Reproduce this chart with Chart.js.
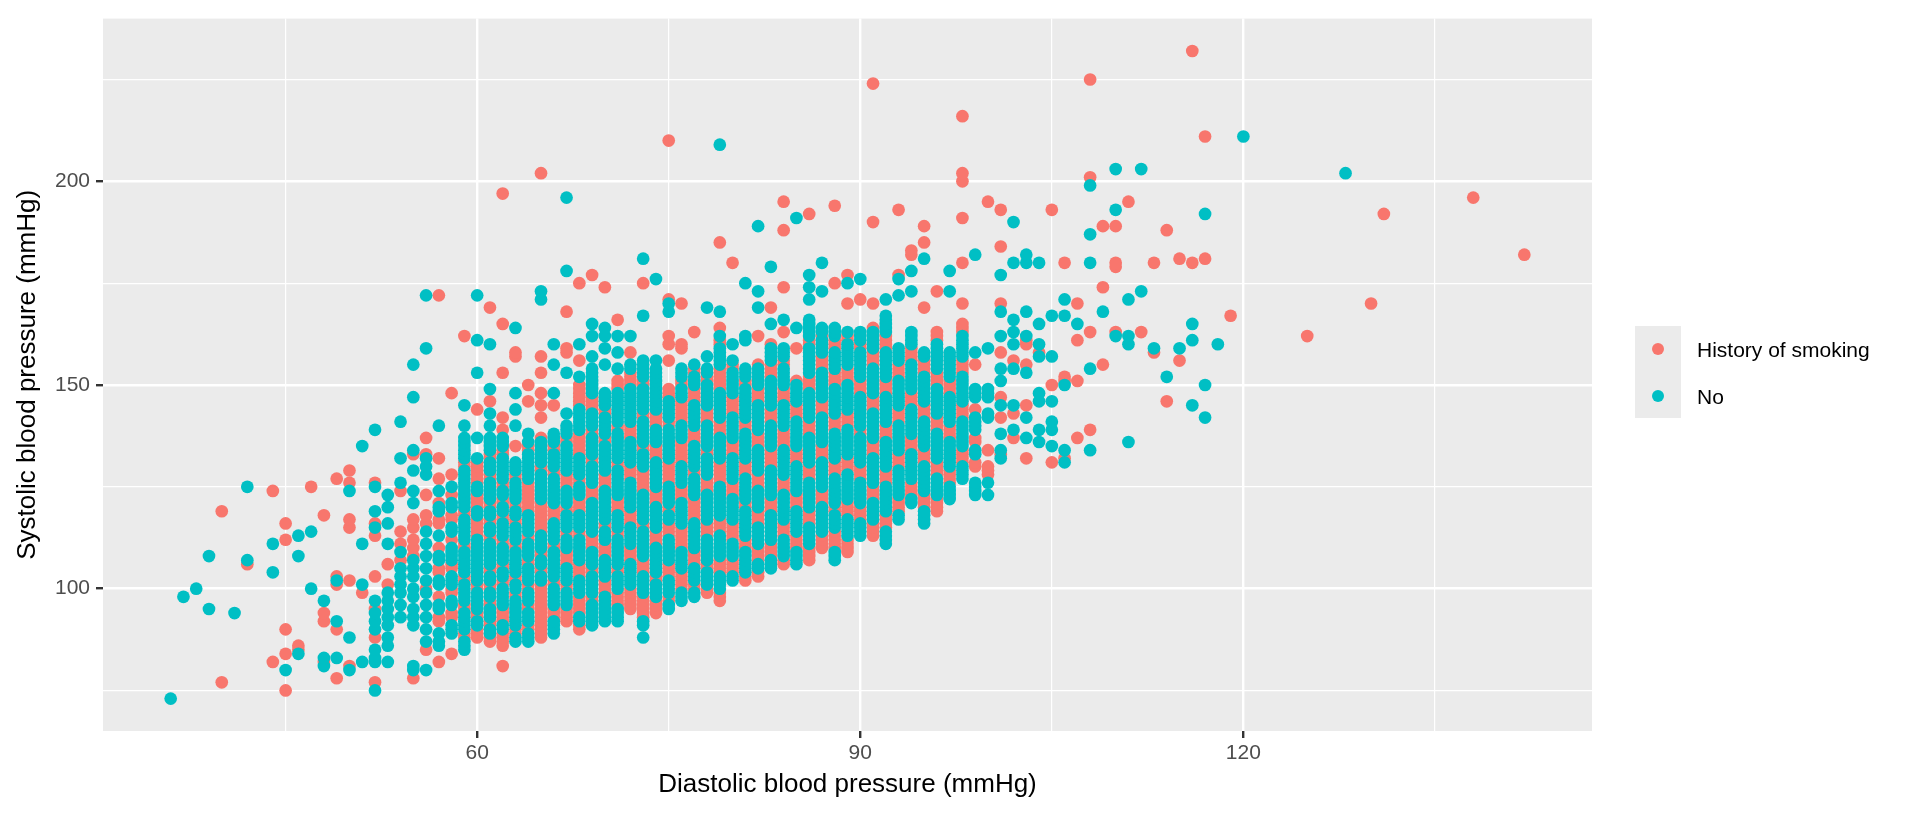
<!DOCTYPE html>
<html>
<head>
<meta charset="utf-8">
<title>Systolic vs diastolic blood pressure</title>
<script src="https://cdn.jsdelivr.net/npm/chart.js@4.4.1/dist/chart.umd.min.js"></script>
<style>
  html, body { margin: 0; padding: 0; background: #ffffff; }
  #wrap { position: relative; width: 1920px; height: 816px; overflow: hidden; }
  #chart { position: absolute; left: 0; top: 0; }
  .key-bg { position: absolute; left: 1635px; top: 326px; width: 46px; height: 92px; background: #EBEBEB; }
  .key-dot { position: absolute; width: 12.5px; height: 12.5px; border-radius: 50%; left: 1651.5px; }
  .key-label { position: absolute; left: 1697px; font-family: "Liberation Sans", Arial, sans-serif; font-size: 21px; color: #000000; line-height: 1; transform: translateY(-50%); white-space: nowrap; }
</style>
</head>
<body>
<div id="wrap">
  <canvas id="chart" width="1920" height="816"></canvas>
  <div class="key-bg"></div>
  <div class="key-dot" style="top:342.75px;background:#F8766D"></div>
  <div class="key-dot" style="top:389.5px;background:#00BFC4"></div>
  <div class="key-label" style="top:349px">History of smoking</div>
  <div class="key-label" style="top:396px">No</div>
</div>
<script>
// diastolic value, then the systolic readings seen in that column
const smokingRows = [
  [40, [77, 119]],
  [42, [106]],
  [44, [82, 124]],
  [45, [75, 84, 90, 112, 116]],
  [46, [85, 86]],
  [47, [125]],
  [48, [82, 92, 94, 118]],
  [49, [78, 90, 101, 103, 127]],
  [50, [81, 102, 115, 117, 126, 129]],
  [51, [99]],
  [52, [77, 88, 95, 103, 113, 116, 126]],
  [53, [101, 106]],
  [54, [107, 111, 114, 124]],
  [55, [78, 108, 110, 112, 115, 117, 133]],
  [56, [85, 100, 116, 118, 123, 133, 137]],
  [57, [82, 92, 93, 98, 104, 105, 110, 116, 117, 121, 127, 132, 172]],
  [58, [84, 93, 94, 99, 100, 105, 106, 112, 117, 118, 123, 128, 148]],
  [59, [88, 89, 95, 96, 102, 103, 110, 111, 118, 119, 130, 131, 162]],
  [60, [88, 89, 90, 93, 94, 100, 101, 113, 114, 115, 116, 117, 120, 121, 122, 123, 126, 127, 128, 129, 130, 131, 144]],
  [61, [87, 88, 91, 92, 96, 97, 100, 101, 104, 105, 112, 113, 116, 117, 120, 121, 127, 128, 132, 133, 146, 169]],
  [62, [81, 86, 87, 88, 89, 92, 93, 94, 95, 101, 102, 105, 106, 111, 112, 117, 118, 121, 122, 125, 126, 133, 134, 139, 142, 153, 165, 197]],
  [63, [89, 90, 98, 99, 102, 103, 110, 111, 116, 117, 120, 121, 127, 128, 135, 157, 158]],
  [64, [90, 91, 95, 96, 100, 101, 106, 107, 112, 113, 119, 120, 121, 122, 123, 124, 125, 126, 134, 135, 146, 150]],
  [65, [88, 89, 90, 91, 92, 93, 94, 95, 96, 97, 98, 99, 100, 101, 104, 105, 108, 109, 114, 115, 116, 117, 118, 119, 120, 121, 129, 130, 137, 142, 145, 148, 153, 157, 202]],
  [66, [93, 94, 95, 101, 102, 110, 111, 117, 118, 119, 120, 128, 129, 134, 135, 145]],
  [67, [92, 93, 94, 95, 100, 101, 106, 107, 108, 109, 113, 114, 119, 120, 125, 126, 127, 128, 136, 137, 158, 159, 168]],
  [68, [90, 91, 94, 95, 96, 97, 98, 103, 104, 105, 106, 113, 114, 119, 120, 121, 122, 126, 127, 133, 134, 135, 136, 137, 138, 145, 146, 147, 148, 149, 150, 156, 175]],
  [69, [97, 98, 104, 105, 110, 111, 112, 113, 122, 123, 124, 125, 131, 132, 138, 139, 144, 145, 146, 147, 177]],
  [70, [99, 100, 101, 102, 108, 109, 110, 111, 115, 116, 125, 126, 127, 128, 136, 137, 143, 144, 174]],
  [71, [96, 97, 98, 99, 104, 105, 113, 114, 119, 120, 121, 122, 130, 131, 139, 140, 149, 150, 151, 166]],
  [72, [95, 96, 97, 98, 99, 100, 107, 108, 109, 110, 116, 117, 118, 119, 127, 128, 129, 130, 137, 138, 139, 140, 150, 151, 152, 153, 158]],
  [73, [93, 94, 95, 96, 97, 98, 104, 105, 106, 107, 115, 116, 124, 125, 126, 127, 128, 129, 134, 135, 142, 143, 150, 151, 175]],
  [74, [94, 95, 96, 97, 102, 103, 111, 112, 113, 114, 121, 122, 123, 124, 132, 133, 134, 135, 140, 141, 142, 143]],
  [75, [97, 98, 103, 104, 105, 106, 113, 114, 115, 116, 119, 120, 126, 127, 128, 129, 130, 131, 140, 141, 147, 148, 149, 156, 160, 162, 171, 210]],
  [76, [100, 101, 102, 103, 104, 110, 111, 112, 113, 114, 115, 122, 123, 124, 125, 131, 132, 133, 134, 135, 136, 141, 142, 143, 144, 145, 146, 150, 151, 159, 160, 170]],
  [77, [100, 101, 106, 107, 108, 109, 117, 118, 119, 120, 121, 122, 128, 129, 136, 137, 138, 139, 146, 147, 148, 149, 153, 154, 163]],
  [78, [99, 100, 105, 106, 113, 114, 115, 116, 124, 125, 126, 127, 133, 134, 141, 142, 143, 144, 151, 152]],
  [79, [97, 98, 99, 104, 105, 106, 107, 114, 115, 116, 117, 126, 127, 128, 129, 130, 131, 138, 139, 140, 141, 149, 150, 151, 152, 153, 154, 160, 161, 164, 185]],
  [80, [104, 105, 106, 107, 112, 113, 114, 115, 116, 123, 124, 125, 126, 133, 134, 135, 136, 143, 144, 145, 146, 147, 154, 155, 180]],
  [81, [102, 103, 110, 111, 112, 120, 121, 128, 129, 130, 131, 139, 140, 141, 150, 151]],
  [82, [103, 104, 107, 108, 109, 110, 116, 117, 118, 119, 125, 126, 127, 128, 135, 136, 137, 138, 146, 147, 148, 149, 155, 162]],
  [83, [108, 109, 110, 111, 119, 120, 121, 122, 130, 131, 132, 133, 134, 141, 142, 143, 144, 152, 153, 154, 155, 160, 169]],
  [84, [106, 107, 113, 114, 115, 116, 124, 125, 126, 127, 135, 136, 137, 138, 139, 146, 147, 148, 149, 155, 156, 163, 174, 188, 195]],
  [85, [110, 111, 112, 113, 120, 121, 122, 123, 131, 132, 133, 134, 142, 143, 144, 145, 151, 159]],
  [86, [107, 108, 109, 110, 116, 117, 118, 119, 127, 128, 129, 130, 138, 139, 140, 141, 149, 150, 151, 152, 160, 161, 192]],
  [87, [110, 111, 112, 113, 121, 122, 123, 124, 132, 133, 134, 135, 143, 144, 145, 146, 154, 155, 156, 157, 162]],
  [88, [110, 111, 112, 113, 114, 119, 120, 128, 129, 130, 131, 139, 140, 141, 142, 150, 151, 152, 153, 159, 160, 161, 175, 194]],
  [89, [109, 110, 111, 112, 118, 119, 120, 121, 129, 130, 131, 132, 140, 141, 142, 143, 151, 152, 153, 154, 161, 162, 170, 177]],
  [90, [117, 118, 119, 120, 127, 128, 129, 130, 138, 139, 148, 149, 150, 151, 159, 160, 171]],
  [91, [113, 114, 115, 116, 122, 123, 124, 125, 133, 134, 135, 136, 144, 145, 146, 147, 155, 156, 157, 158, 164, 170, 190, 224]],
  [92, [115, 116, 117, 118, 126, 127, 128, 129, 137, 138, 139, 140, 148, 149, 150, 151, 159, 160, 161, 162]],
  [93, [119, 120, 121, 122, 130, 131, 132, 133, 141, 142, 143, 144, 152, 153, 154, 155, 177, 193]],
  [94, [123, 124, 125, 126, 134, 135, 136, 137, 145, 146, 147, 148, 156, 157, 158, 159, 182, 183]],
  [95, [120, 121, 122, 123, 131, 132, 133, 134, 142, 143, 144, 145, 153, 154, 155, 156, 169, 185, 189]],
  [96, [119, 120, 121, 122, 128, 129, 130, 131, 139, 140, 141, 142, 150, 151, 152, 153, 161, 162, 163, 173]],
  [97, [126, 127, 128, 129, 137, 138, 139, 140, 148, 149, 150, 151]],
  [98, [131, 132, 133, 134, 142, 143, 144, 145, 153, 154, 155, 156, 163, 164, 165, 170, 180, 191, 200, 202, 216]],
  [99, [130, 131, 136, 137, 144, 155]],
  [100, [128, 129, 130, 134, 195]],
  [101, [133, 142, 147, 158, 170, 184, 193]],
  [102, [137, 143, 156]],
  [103, [132, 145, 155, 160, 161]],
  [104, [158]],
  [105, [131, 150, 193]],
  [106, [132, 151, 152, 180]],
  [107, [137, 151, 161, 170]],
  [108, [139, 163, 201, 225]],
  [109, [155, 174, 189]],
  [110, [163, 179, 180, 189]],
  [111, [195]],
  [112, [163]],
  [113, [158, 180]],
  [114, [146, 188]],
  [115, [156, 181]],
  [116, [180, 232]],
  [117, [181, 211]],
  [119, [167]],
  [125, [162]],
  [130, [170]],
  [131, [192]],
  [138, [196]],
  [142, [182]]
];

const noSmokingRows = [
  [36, [73]],
  [37, [98]],
  [38, [100]],
  [39, [95, 108]],
  [41, [94]],
  [42, [107, 125]],
  [44, [104, 111]],
  [45, [80]],
  [46, [84, 108, 113]],
  [47, [100, 114]],
  [48, [81, 83, 97]],
  [49, [83, 92, 102]],
  [50, [80, 88, 124]],
  [51, [82, 101, 111, 135]],
  [52, [75, 82, 83, 85, 90, 92, 94, 97, 115, 119, 125, 139]],
  [53, [82, 86, 88, 91, 93, 95, 97, 99, 111, 116, 120, 123]],
  [54, [93, 96, 99, 101, 103, 105, 109, 126, 132, 141]],
  [55, [80, 81, 91, 93, 95, 98, 100, 103, 105, 107, 121, 124, 129, 134, 147, 155]],
  [56, [80, 87, 90, 93, 96, 99, 102, 105, 108, 111, 114, 128, 130, 132, 159, 172]],
  [57, [86, 87, 89, 95, 96, 101, 102, 107, 108, 113, 119, 120, 124, 140]],
  [58, [89, 90, 91, 96, 97, 101, 102, 103, 107, 108, 109, 110, 114, 115, 120, 121, 125]],
  [59, [85, 86, 87, 90, 91, 92, 93, 94, 97, 98, 99, 100, 101, 104, 105, 106, 107, 108, 109, 112, 113, 114, 115, 116, 117, 120, 121, 122, 123, 124, 125, 126, 127, 128, 129, 132, 133, 134, 135, 136, 137, 140, 145]],
  [60, [91, 92, 95, 96, 97, 98, 99, 102, 103, 104, 105, 106, 107, 108, 109, 110, 111, 112, 118, 119, 124, 125, 132, 137, 153, 161, 172]],
  [61, [89, 90, 93, 94, 95, 98, 99, 102, 103, 106, 107, 108, 109, 110, 111, 114, 115, 118, 119, 122, 123, 124, 125, 126, 129, 130, 131, 134, 135, 136, 137, 140, 143, 149, 160]],
  [62, [90, 91, 96, 97, 98, 99, 100, 103, 104, 107, 108, 109, 110, 113, 114, 115, 116, 119, 120, 123, 124, 127, 128, 129, 130, 131, 132, 135, 136, 137]],
  [63, [87, 88, 91, 92, 93, 94, 95, 96, 97, 100, 101, 104, 105, 106, 107, 108, 109, 112, 113, 114, 115, 118, 119, 122, 123, 124, 125, 126, 129, 130, 131, 140, 144, 148, 164]],
  [64, [87, 88, 89, 92, 93, 94, 97, 98, 99, 102, 103, 104, 105, 108, 109, 110, 111, 114, 115, 116, 117, 118, 127, 128, 129, 130, 131, 132, 133, 136, 138]],
  [65, [102, 103, 106, 107, 110, 111, 112, 113, 122, 123, 124, 125, 126, 127, 128, 131, 132, 133, 134, 135, 136, 171, 173]],
  [66, [89, 90, 91, 92, 96, 97, 98, 99, 100, 103, 104, 105, 106, 107, 108, 109, 112, 113, 114, 115, 116, 121, 122, 123, 124, 125, 126, 127, 130, 131, 132, 133, 136, 137, 138, 148, 155, 160]],
  [67, [96, 97, 98, 99, 102, 103, 104, 105, 110, 111, 112, 115, 116, 117, 118, 121, 122, 123, 124, 129, 130, 131, 132, 133, 134, 135, 138, 139, 140, 143, 153, 178, 196]],
  [68, [92, 93, 99, 100, 101, 102, 107, 108, 109, 110, 111, 112, 115, 116, 117, 118, 123, 124, 125, 128, 129, 130, 131, 132, 139, 140, 141, 142, 143, 144, 152, 160]],
  [69, [91, 92, 93, 94, 95, 96, 99, 100, 101, 102, 103, 106, 107, 108, 109, 114, 115, 116, 117, 118, 119, 120, 121, 126, 127, 128, 129, 130, 133, 134, 135, 136, 137, 140, 141, 142, 143, 148, 149, 150, 151, 152, 153, 154, 157, 162, 165]],
  [70, [92, 93, 94, 95, 96, 97, 98, 103, 104, 105, 106, 107, 112, 113, 114, 117, 118, 119, 120, 121, 122, 123, 124, 129, 130, 131, 132, 133, 134, 135, 138, 139, 140, 141, 142, 145, 146, 147, 148, 155, 159, 162, 164]],
  [71, [92, 93, 94, 95, 100, 101, 102, 103, 106, 107, 108, 109, 110, 111, 112, 115, 116, 117, 118, 123, 124, 125, 126, 127, 128, 129, 132, 133, 134, 135, 136, 137, 138, 141, 142, 143, 144, 145, 146, 147, 148, 154, 158, 162]],
  [72, [101, 102, 103, 104, 105, 106, 111, 112, 113, 114, 115, 120, 121, 122, 123, 124, 125, 126, 131, 132, 133, 134, 135, 136, 141, 142, 143, 144, 145, 146, 147, 148, 149, 154, 155, 162]],
  [73, [88, 91, 92, 99, 100, 101, 102, 103, 108, 109, 110, 111, 112, 113, 114, 117, 118, 119, 120, 121, 122, 123, 130, 131, 132, 133, 136, 137, 138, 139, 140, 141, 144, 145, 146, 147, 148, 149, 152, 153, 154, 155, 156, 167, 181]],
  [74, [98, 99, 100, 101, 104, 105, 106, 107, 108, 109, 110, 115, 116, 117, 118, 119, 120, 125, 126, 127, 128, 129, 130, 131, 136, 137, 138, 139, 144, 145, 146, 147, 148, 149, 150, 151, 152, 153, 154, 156, 176]],
  [75, [95, 96, 99, 100, 101, 102, 107, 108, 109, 110, 111, 112, 117, 118, 121, 122, 123, 124, 125, 132, 133, 134, 135, 136, 137, 138, 139, 142, 143, 144, 145, 146, 168, 170]],
  [76, [97, 98, 99, 105, 106, 107, 108, 109, 116, 117, 118, 119, 120, 121, 126, 127, 128, 129, 130, 137, 138, 139, 140, 147, 148, 149, 152, 153, 154]],
  [77, [98, 99, 102, 103, 104, 105, 110, 111, 112, 113, 114, 115, 116, 123, 124, 125, 126, 127, 130, 131, 132, 133, 134, 135, 140, 141, 142, 143, 144, 145, 150, 151, 152, 155]],
  [78, [101, 102, 103, 104, 107, 108, 109, 110, 111, 112, 117, 118, 119, 120, 121, 122, 123, 128, 129, 130, 131, 132, 135, 136, 137, 138, 139, 140, 145, 146, 147, 148, 149, 150, 153, 154, 157, 169]],
  [79, [100, 101, 102, 103, 108, 109, 110, 111, 112, 113, 118, 119, 120, 121, 122, 123, 124, 125, 132, 133, 134, 135, 136, 137, 142, 143, 144, 145, 146, 147, 148, 155, 156, 157, 158, 159, 162, 168, 209]],
  [80, [102, 103, 108, 109, 110, 111, 117, 118, 119, 120, 121, 122, 127, 128, 129, 130, 131, 132, 137, 138, 139, 140, 141, 142, 148, 149, 150, 151, 152, 153, 156, 160]],
  [81, [104, 105, 106, 107, 108, 109, 113, 114, 115, 116, 117, 118, 119, 122, 123, 124, 125, 126, 127, 132, 133, 134, 135, 136, 137, 138, 142, 143, 144, 145, 146, 147, 148, 149, 152, 153, 154, 161, 162, 175]],
  [82, [105, 106, 111, 112, 113, 114, 115, 120, 121, 122, 123, 124, 129, 130, 131, 132, 133, 134, 139, 140, 141, 142, 143, 144, 145, 150, 151, 152, 153, 154, 169, 173, 189]],
  [83, [105, 106, 107, 112, 113, 114, 115, 116, 117, 118, 123, 124, 125, 126, 127, 128, 129, 135, 136, 137, 138, 139, 140, 145, 146, 147, 148, 149, 150, 151, 156, 157, 158, 159, 165, 179]],
  [84, [108, 109, 110, 111, 112, 117, 118, 119, 120, 121, 122, 123, 128, 129, 130, 131, 132, 133, 134, 140, 141, 142, 143, 144, 145, 150, 151, 152, 153, 154, 157, 158, 159, 166]],
  [85, [106, 107, 108, 109, 114, 115, 116, 117, 118, 119, 124, 125, 126, 127, 128, 129, 130, 135, 136, 137, 138, 139, 140, 141, 146, 147, 148, 149, 150, 164, 191]],
  [86, [111, 112, 113, 114, 115, 120, 121, 122, 123, 124, 125, 126, 131, 132, 133, 134, 135, 136, 137, 142, 143, 144, 145, 146, 147, 148, 153, 154, 155, 156, 157, 158, 159, 162, 163, 164, 165, 166, 171, 174, 177]],
  [87, [114, 115, 116, 117, 118, 119, 120, 125, 126, 127, 128, 129, 130, 131, 136, 137, 138, 139, 140, 141, 142, 147, 148, 149, 150, 151, 152, 153, 158, 159, 160, 161, 163, 164, 173, 180]],
  [88, [107, 108, 109, 115, 116, 117, 118, 121, 122, 123, 124, 125, 126, 127, 132, 133, 134, 135, 136, 137, 138, 143, 144, 145, 146, 147, 148, 149, 154, 155, 156, 157, 158, 162, 163, 164]],
  [89, [113, 114, 115, 116, 117, 122, 123, 124, 125, 126, 127, 128, 133, 134, 135, 136, 137, 138, 139, 144, 145, 146, 147, 148, 149, 150, 155, 156, 157, 158, 159, 160, 163, 175]],
  [90, [113, 114, 115, 116, 121, 122, 123, 124, 125, 126, 131, 132, 133, 134, 135, 136, 137, 140, 141, 142, 143, 144, 145, 146, 147, 152, 153, 154, 155, 156, 157, 158, 161, 162, 163, 176]],
  [91, [117, 118, 119, 120, 121, 126, 127, 128, 129, 130, 131, 132, 137, 138, 139, 140, 141, 142, 143, 148, 149, 150, 151, 152, 153, 154, 159, 160, 161, 162, 163]],
  [92, [111, 112, 113, 114, 119, 120, 121, 122, 123, 124, 125, 130, 131, 132, 133, 134, 135, 136, 141, 142, 143, 144, 145, 146, 147, 152, 153, 154, 155, 156, 157, 158, 163, 164, 165, 166, 167, 171]],
  [93, [117, 118, 123, 124, 125, 126, 127, 128, 129, 134, 135, 136, 137, 138, 139, 140, 145, 146, 147, 148, 149, 150, 151, 156, 157, 158, 159, 172, 176]],
  [94, [121, 122, 127, 128, 129, 130, 131, 132, 133, 138, 139, 140, 141, 142, 143, 144, 149, 150, 151, 152, 153, 154, 155, 160, 161, 162, 163, 173, 178]],
  [95, [116, 117, 118, 119, 124, 125, 126, 127, 128, 129, 130, 135, 136, 137, 138, 139, 140, 141, 146, 147, 148, 149, 150, 151, 152, 157, 158, 181]],
  [96, [123, 124, 125, 126, 127, 132, 133, 134, 135, 136, 137, 138, 143, 144, 145, 146, 147, 148, 149, 154, 155, 156, 157, 158, 159, 160]],
  [97, [122, 123, 124, 125, 130, 131, 132, 133, 134, 135, 136, 141, 142, 143, 144, 145, 146, 147, 152, 153, 154, 155, 156, 157, 158, 173, 178]],
  [98, [127, 128, 129, 130, 135, 136, 137, 138, 139, 140, 141, 146, 147, 148, 149, 150, 151, 152, 157, 158, 159, 160, 161, 162]],
  [99, [123, 124, 125, 126, 133, 134, 139, 140, 141, 142, 147, 148, 149, 158, 182]],
  [100, [123, 126, 142, 143, 147, 148, 149, 159]],
  [101, [132, 134, 138, 145, 151, 154, 162, 168, 177]],
  [102, [139, 145, 154, 160, 163, 166, 180, 190]],
  [103, [137, 142, 153, 162, 168, 180, 182]],
  [104, [136, 139, 146, 148, 157, 160, 165, 180]],
  [105, [135, 139, 141, 146, 157, 167]],
  [106, [131, 134, 150, 167, 171]],
  [107, [165]],
  [108, [134, 154, 180, 187, 199]],
  [109, [168]],
  [110, [162, 193, 203]],
  [111, [136, 160, 162, 171]],
  [112, [173, 203]],
  [113, [159]],
  [114, [152]],
  [115, [159]],
  [116, [145, 161, 165]],
  [117, [142, 150, 192]],
  [118, [160]],
  [120, [211]],
  [128, [202]]
];

const xGridValues = [45, 60, 75, 90, 105, 120, 135];
const xLabelValues = [60, 90, 120];
const yGridValues = [75, 100, 125, 150, 175, 200, 225];
const yLabelValues = [100, 150, 200];

const FONT = '"Liberation Sans", Arial, sans-serif';
const toPoints = rows => rows.flatMap(([x, ys]) => ys.map(y => ({ x, y })));

const panelBackground = {
  id: 'panelBackground',
  beforeDraw(chart) {
    const { ctx, chartArea: a } = chart;
    ctx.save();
    ctx.fillStyle = '#FFFFFF';
    ctx.fillRect(0, 0, chart.width, chart.height);
    ctx.fillStyle = '#EBEBEB';
    ctx.fillRect(a.left, a.top, a.right - a.left, a.bottom - a.top);
    ctx.restore();
  }
};

function axisOptions(gridValues, labelValues, title, extra) {
  return Object.assign({
    type: 'linear',
    bounds: 'data',
    afterBuildTicks: scale => { scale.ticks = gridValues.map(v => ({ value: v })); },
    border: { display: false },
    grid: {
      color: '#FFFFFF',
      lineWidth: c => labelValues.includes(c.tick && c.tick.value) ? 2.4 : 1.2,
      tickColor: c => labelValues.includes(c.tick && c.tick.value) ? '#333333' : 'rgba(0,0,0,0)',
      tickWidth: 2.4,
      tickLength: 7
    },
    ticks: {
      autoSkip: false,
      maxRotation: 0,
      color: '#4D4D4D',
      font: { family: FONT, size: 21 },
      callback: v => labelValues.includes(v) ? String(v) : ''
    },
    title: { display: true, text: title, color: '#000000', font: { family: FONT, size: 26 } }
  }, extra);
}

const xAxis = axisOptions(xGridValues, xLabelValues, 'Diastolic blood pressure (mmHg)', {
  min: 30.7, max: 147.3,
  afterFit: scale => { scale.height = 85; }
});
xAxis.ticks.padding = 3;
xAxis.title.padding = { top: 0, bottom: 16 };

const yAxis = axisOptions(yGridValues, yLabelValues, 'Systolic blood pressure (mmHg)', {
  min: 65.05, max: 239.95,
  afterFit: scale => { scale.width = 103; }
});
yAxis.ticks.padding = 6;
yAxis.title.padding = { top: 12, bottom: 0 };

new Chart(document.getElementById('chart'), {
  type: 'scatter',
  data: {
    datasets: [
      {
        label: 'No',
        data: toPoints(noSmokingRows),
        backgroundColor: '#00BFC4',
        pointRadius: 6.35,
        pointHoverRadius: 6.35,
        pointBorderWidth: 0,
        borderWidth: 0
      },
      {
        label: 'History of smoking',
        data: toPoints(smokingRows),
        backgroundColor: '#F8766D',
        pointRadius: 6.35,
        pointHoverRadius: 6.35,
        pointBorderWidth: 0,
        borderWidth: 0
      }
    ]
  },
  options: {
    responsive: false,
    animation: false,
    devicePixelRatio: 1,
    events: [],
    layout: { padding: { top: 15, right: 328, left: 0, bottom: 0 } },
    plugins: { legend: { display: false }, tooltip: { enabled: false } },
    scales: { x: xAxis, y: yAxis }
  },
  plugins: [panelBackground]
});
</script>
</body>
</html>
